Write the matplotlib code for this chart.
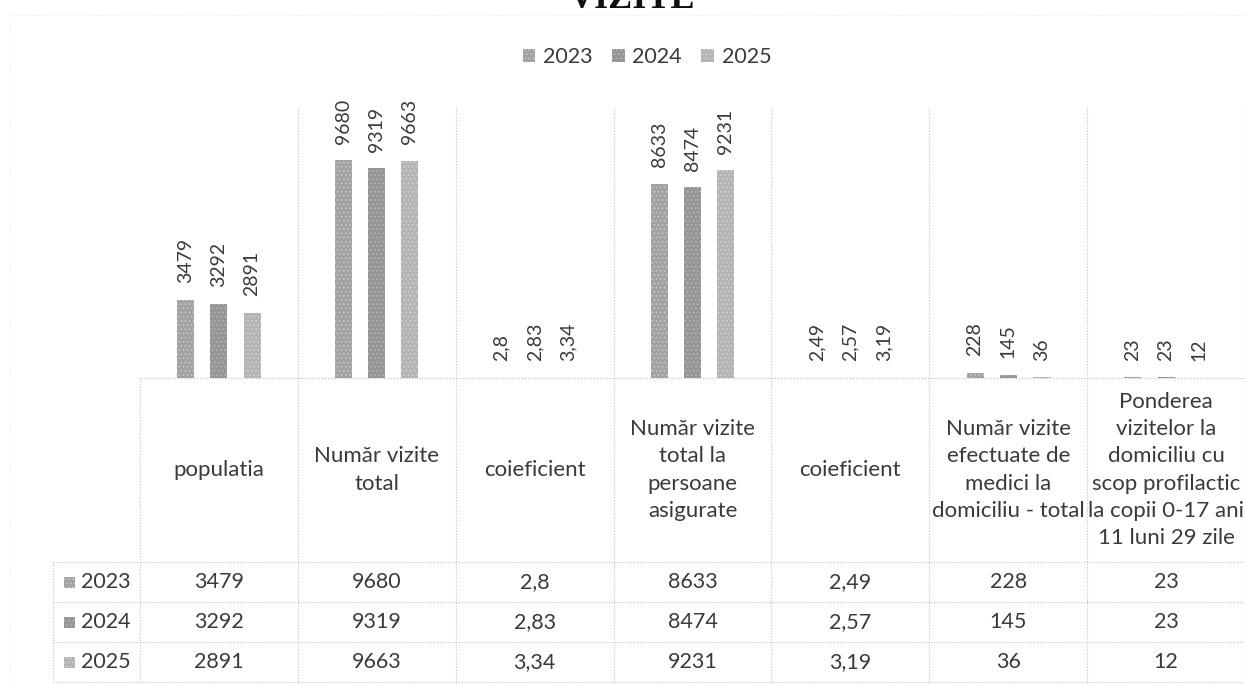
import numpy as np
import matplotlib
matplotlib.use("Agg")
import matplotlib.pyplot as plt
from matplotlib.patches import Rectangle
from matplotlib.lines import Line2D
import matplotlib.transforms as mtransforms

# ---------------- data ----------------
categories = [
    "populatia",
    "Număr vizite\ntotal",
    "coieficient",
    "Număr vizite\ntotal la\npersoane\nasigurate",
    "coieficient",
    "Număr vizite\nefectuate de\nmedici la\ndomiciliu - total",
    "Ponderea\nvizitelor la\ndomiciliu cu\nscop profilactic\nla copii 0-17 ani\n11 luni 29 zile",
]
years = ["2023", "2024", "2025"]
v2023 = [3479, 9680, 2.8, 8633, 2.49, 228, 23]
v2024 = [3292, 9319, 2.83, 8474, 2.57, 145, 23]
v2025 = [2891, 9663, 3.34, 9231, 3.19, 36, 12]
title = "VIZITE"

# ---------------- style ----------------
W, H = 1245, 685
FONT = ["Lato", "DejaVu Sans"]
plt.rcParams["font.family"] = FONT
plt.rcParams["hatch.linewidth"] = 0.6
txtcol = "#3a3a3a"
gridcol = "#c4c4c4"
colors = ["#a2a2a2", "#969696", "#b4b4b4"]
hatchcols = ["#cdcdcd", "#bababa", "#d4d4d4"]


def fx(px):
    return px / W


def fy(py):
    return 1 - py / H


def fmt(v):
    return f"{v:g}".replace(".", ",")


fig = plt.figure(figsize=(W / 100, H / 100), dpi=100)
ax = fig.add_axes([fx(140), fy(378), fx(1245) - fx(140), (378 - 108) / H])
ax.set_xlim(-0.5, len(categories) - 0.5)
ax.set_ylim(0, 12000)
ax.axis("off")

x = np.arange(len(categories))
series = [v2023, v2024, v2025]
containers = []
for k, vals in enumerate(series):
    bars = ax.bar(x + (k - 1) * 0.21, vals, width=0.108, color=colors[k],
                  edgecolor=hatchcols[k], linewidth=0, hatch="....",
                  label=years[k], zorder=3)
    containers.append(bars)
    for b, v in zip(bars, vals):
        ax.annotate(fmt(v), (b.get_x() + b.get_width() / 2, b.get_height()),
                    xytext=(0, 12), textcoords="offset points", rotation=90,
                    ha="center", va="bottom", fontsize=14, color=txtcol,
                    annotation_clip=False)

trans = mtransforms.blended_transform_factory(ax.transData, fig.transFigure)
ls = (0, (1, 1.5))

# vertical grid / table lines
for i in range(len(categories) + 1):
    top = 108 if i > 0 else 378
    fig.add_artist(Line2D([i - 0.5, i - 0.5], [fy(top), fy(682)], transform=trans,
                          color=gridcol, lw=0.8, linestyle=ls))
# baseline
fig.add_artist(Line2D([-0.5, len(categories) - 0.5], [fy(378), fy(378)], transform=trans,
                      color=gridcol, lw=0.9, linestyle=ls))
# table horizontal lines
for py in [562, 602, 642, 682]:
    fig.add_artist(Line2D([fx(53), fx(1245)], [fy(py), fy(py)], transform=fig.transFigure,
                          color=gridcol, lw=0.8, linestyle=ls))
fig.add_artist(Line2D([fx(53), fx(53)], [fy(562), fy(682)], transform=fig.transFigure,
                      color=gridcol, lw=0.8, linestyle=ls))
# faint chart border
fig.add_artist(Line2D([fx(10), fx(1245)], [fy(15), fy(15)], transform=fig.transFigure,
                      color="#ececec", lw=0.8, linestyle=ls))
fig.add_artist(Line2D([fx(10), fx(10)], [fy(15), fy(685)], transform=fig.transFigure,
                      color="#ececec", lw=0.8, linestyle=ls))

# category labels
for i, cat in enumerate(categories):
    fig.text(i, fy(470), cat, transform=trans, ha="center", va="center",
             multialignment="center", linespacing=1.44, fontsize=16, color=txtcol)

# data table
for r, vals in enumerate(series):
    yc = 582 + 40 * r
    fig.add_artist(Rectangle((fx(64), fy(yc + 6)), 11 / W, 11 / H, transform=fig.transFigure,
                             facecolor=colors[r], edgecolor=hatchcols[r], linewidth=0,
                             hatch="...."))
    fig.text(fx(81), fy(yc), years[r], ha="left", va="center", fontsize=15.5, color=txtcol)
    for i, v in enumerate(vals):
        fig.text(i, fy(yc), fmt(v), transform=trans, ha="center", va="center",
                 fontsize=15.5, color=txtcol)

# legend
fig.legend(containers, years, loc="center", bbox_to_anchor=(fx(647), fy(57)), ncol=3,
           frameon=False, fontsize=15.5, handlelength=0.6, handleheight=0.6,
           handletextpad=0.35, columnspacing=0.9, labelcolor=txtcol)

# title (cut at top like the reference)
fig.text(fx(632), fy(8), title, ha="center", va="baseline", fontsize=26,
         fontweight="bold", family=["Liberation Serif", "DejaVu Serif"], color="#111111")

fig.savefig("out.png", dpi=100)
